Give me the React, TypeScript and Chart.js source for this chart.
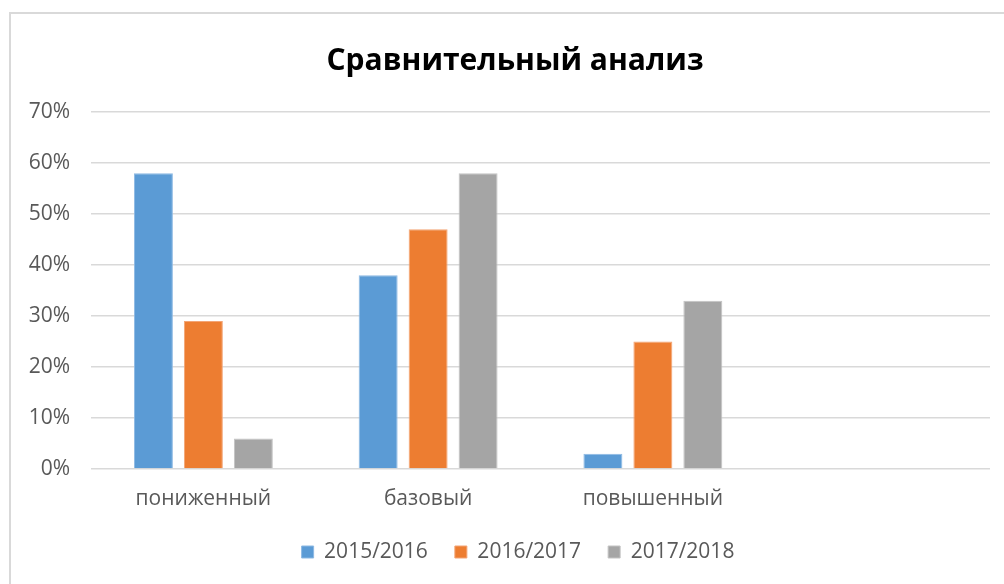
import React, { useEffect, useRef } from "react";
import { Chart, registerables } from "chart.js";

Chart.register(...registerables);

const categories = ["пониженный", "базовый", "повышенный", ""];
const seriesNames = ["2015/2016", "2016/2017", "2017/2018"];
const values2015 = [58, 38, 3, null];
const values2016 = [29, 47, 25, null];
const values2017 = [6, 58, 33, null];
const colors = ["#5B9BD5", "#ED7D31", "#A5A5A5"];
const borderColors = ["#8DB9E3", "#F3A576", "#C3C3C3"];
const yTicks = [0, 10, 20, 30, 40, 50, 60, 70];
const titleText = "Сравнительный анализ";

const FONT = "'Open Sans', 'DejaVu Sans', sans-serif";

export default function App() {
  const ref = useRef<HTMLCanvasElement | null>(null);

  useEffect(() => {
    if (!ref.current) return;
    const framePlugin = {
      id: "frame",
      beforeDraw(chart: any) {
        const ctx = chart.ctx;
        ctx.save();
        ctx.fillStyle = "#FFFFFF";
        ctx.fillRect(0, 0, chart.width, chart.height);
        ctx.strokeStyle = "#D9D9D9";
        ctx.lineWidth = 2;
        ctx.strokeRect(10, 13, chart.width + 40, chart.height + 40);
        ctx.restore();
      },
      afterLayout(chart: any) {
        if (chart.titleBlock) {
          chart.titleBlock.left += 20;
          chart.titleBlock.right += 20;
        }
        if (chart.legend) {
          chart.legend.left += 23;
          chart.legend.right += 23;
        }
      },
    };
    const datasets = [values2015, values2016, values2017].map((d, i) => ({
      label: seriesNames[i],
      data: d,
      backgroundColor: colors[i],
      borderColor: borderColors[i],
      borderWidth: 1,
      categoryPercentage: 0.667,
      barPercentage: 0.78,
    }));
    const chart = new Chart(ref.current, {
      type: "bar",
      data: { labels: categories, datasets },
      plugins: [framePlugin],
      options: {
        animation: false,
        responsive: false,
        layout: { padding: { left: 0, right: 14, top: 0, bottom: 11.5 } },
        plugins: {
          title: {
            display: true,
            text: titleText,
            color: "#000000",
            font: { family: FONT, size: 30, weight: "bold" },
            padding: { top: 43.5, bottom: 32.5 },
          },
          legend: {
            position: "bottom",
            labels: {
              boxWidth: 12,
              boxHeight: 12,
              padding: 27,
              color: "#595959",
              font: { family: FONT, size: 21 },
            },
          },
          tooltip: { enabled: false },
        },
        scales: {
          x: {
            grid: { display: false, drawTicks: false },
            border: { display: false },
            ticks: { color: "#595959", font: { family: FONT, size: 21 }, padding: 17, maxRotation: 0 },
            afterFit(scale: any) {
              scale.height = 45.5;
            },
          },
          y: {
            min: 0,
            max: 70,
            grid: { color: "#D9D9D9", lineWidth: 1.5, drawTicks: false },
            border: { display: false },
            afterBuildTicks(scale: any) {
              scale.ticks = yTicks.map((v) => ({ value: v }));
            },
            ticks: {
              color: "#595959",
              font: { family: FONT, size: 21 },
              padding: 21,
              callback: (v: any) => v + "%",
            },
            afterFit(scale: any) {
              scale.width = 91;
            },
          },
        },
      },
    });
    return () => chart.destroy();
  }, []);

  return (
    <div style={{ position: "fixed", left: 0, top: 0, width: 1004, height: 584, overflow: "hidden", background: "#fff" }}>
      <canvas ref={ref} width={1004} height={584} style={{ display: "block" }} />
    </div>
  );
}
